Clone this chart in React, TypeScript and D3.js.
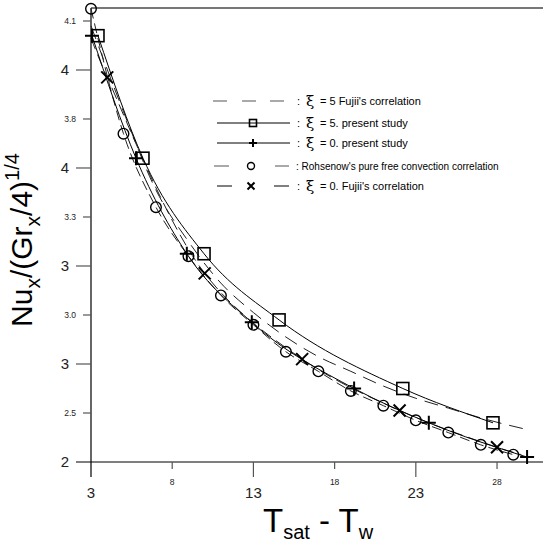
import React from "react";
import * as d3 from "d3";

// T_sat - T_w values and Nu_x/(Gr_x/4)^(1/4)
const fujii5T = [3, 5, 7, 9, 11, 13, 15, 17, 19, 21, 23, 25, 27, 30];
const fujii5Nu = [4.08, 3.73, 3.41, 3.2, 3.03, 2.91, 2.81, 2.73, 2.67, 2.61, 2.56, 2.52, 2.48, 2.43];

const present5T = [3.43, 6.2, 9.96, 14.58, 22.2, 27.75];
const present5Nu = [4.04, 3.54, 3.15, 2.88, 2.6, 2.46];

const present0T = [3.06, 5.77, 8.9, 12.9, 19.2, 23.8, 29.85];
const present0Nu = [4.04, 3.54, 3.15, 2.87, 2.6, 2.46, 2.32];

const rohsenowT = [3, 5, 7, 9, 11, 13, 15, 17, 19, 21, 23, 25, 27, 29];
const rohsenowNu = [4.15, 3.64, 3.34, 3.14, 2.98, 2.86, 2.75, 2.67, 2.59, 2.53, 2.47, 2.42, 2.37, 2.33];

const fujii0T = [3, 4, 10, 16, 22, 28, 29.5];
const fujii0Nu = [4.03, 3.87, 3.07, 2.72, 2.51, 2.36, 2.33];
const fujii0Markers = [4, 10, 16, 22, 28];

const xTicks = [3, 8, 13, 18, 23, 28];
const xTickLabels = ["3", "8", "13", "18", "23", "28"];
const yTicks = [2.3, 2.5, 2.7, 2.9, 3.1, 3.3, 3.5, 3.7, 3.9, 4.1];
const yTickLabels = ["2", "2.5", "3", "3.0", "3", "3.3", "4", "3.8", "4", "4.1"];

const legendLabels = [
  "= 5 Fujii's correlation",
  "= 5. present study",
  "= 0. present study",
  ": Rohsenow's pure free convection correlation",
  "= 0. Fujii's correlation",
];

const FONT = "'Liberation Sans', Arial, sans-serif";

function zip(t: number[], v: number[]) {
  return t.map((d, i) => [d, v[i]] as [number, number]);
}

function Square({ cx, cy, s }: { cx: number; cy: number; s: number }) {
  return <rect x={cx - s / 2} y={cy - s / 2} width={s} height={s} fill="none" stroke="#000" strokeWidth={1.6} />;
}
function Plus({ cx, cy, s }: { cx: number; cy: number; s: number }) {
  return (
    <path d={`M${cx - s / 2},${cy}H${cx + s / 2}M${cx},${cy - s / 2}V${cy + s / 2}`} stroke="#000" strokeWidth={2} />
  );
}
function Circle({ cx, cy, r }: { cx: number; cy: number; r: number }) {
  return <circle cx={cx} cy={cy} r={r} fill="none" stroke="#000" strokeWidth={1.4} />;
}
function Cross({ cx, cy, s }: { cx: number; cy: number; s: number }) {
  const h = s / 2;
  return (
    <path d={`M${cx - h},${cy - h}L${cx + h},${cy + h}M${cx - h},${cy + h}L${cx + h},${cy - h}`} stroke="#000" strokeWidth={2} />
  );
}

export default function App() {
  const W = 543;
  const H = 544;
  const left = 91;
  const top = 8;
  const bottom = 462;

  const x = d3.scaleLinear().domain([3, 30.83]).range([left, W]);
  const y = d3.scaleLinear().domain([2.3, 4.153]).range([bottom, top]);

  const smooth = d3
    .line<[number, number]>()
    .x((d) => x(d[0]))
    .y((d) => y(d[1]))
    .curve(d3.curveMonotoneX);
  const cr = d3
    .line<[number, number]>()
    .x((d) => x(d[0]))
    .y((d) => y(d[1]))
    .curve(d3.curveCatmullRom.alpha(0.5));

  const p5 = zip(present5T, present5Nu);
  const p0 = zip(present0T, present0Nu);
  const ro = zip(rohsenowT, rohsenowNu);
  const f5 = zip(fujii5T, fujii5Nu);
  const f0 = zip(fujii0T, fujii0Nu);

  const legendY = [101, 123, 143, 166, 186];

  return (
    <div style={{ position: "fixed", left: 0, top: 0 }}>
      <svg width={W} height={H} style={{ display: "block", background: "#fff" }}>
        {/* frame */}
        <line x1={left} x2={W} y1={top} y2={top} stroke="#777" strokeWidth={2} />
        <line x1={76} x2={W} y1={bottom} y2={bottom} stroke="#000" strokeWidth={1.2} />
        <line x1={left} x2={left} y1={top} y2={477} stroke="#000" strokeWidth={1.2} />

        {/* y ticks */}
        {yTicks.map((v, i) => {
          const big = i % 2 === 0;
          const yy = y(v);
          return (
            <g key={"yt" + i}>
              {i > 0 && <line x1={big ? 76 : 83} x2={left} y1={yy} y2={yy} stroke="#555" strokeWidth={1.2} />}
              <text
                x={big ? 69 : 76}
                y={yy}
                dy="0.35em"
                textAnchor="end"
                fontFamily={FONT}
                fontSize={big ? 15 : 8.5}
                fill="#222"
              >
                {yTickLabels[i]}
              </text>
            </g>
          );
        })}

        {/* x ticks */}
        {xTicks.map((v, i) => {
          const big = i % 2 === 0;
          const xx = x(v);
          return (
            <g key={"xt" + i}>
              {i > 0 && <line x1={xx} x2={xx} y1={bottom} y2={big ? 477 : 469} stroke="#555" strokeWidth={1.2} />}
              <text
                x={xx}
                y={big ? 498 : 485}
                textAnchor="middle"
                fontFamily={FONT}
                fontSize={big ? 15 : 8.5}
                fill="#222"
              >
                {xTickLabels[i]}
              </text>
            </g>
          );
        })}

        {/* curves */}
        <path d={smooth(f5) || ""} fill="none" stroke="#222" strokeWidth={1} strokeDasharray="14,8" />
        <path d={smooth(ro) || ""} fill="none" stroke="#222" strokeWidth={1} strokeDasharray="10,5" />
        <path d={cr(f0) || ""} fill="none" stroke="#222" strokeWidth={1} strokeDasharray="12,6" />
        <path d={smooth(p5) || ""} fill="none" stroke="#000" strokeWidth={1} />
        <path d={smooth(p0) || ""} fill="none" stroke="#000" strokeWidth={1} />

        {/* markers */}
        {ro.map((d, i) => (
          <Circle key={"c" + i} cx={x(d[0])} cy={y(d[1])} r={5.3} />
        ))}
        {p5.map((d, i) => (
          <Square key={"s" + i} cx={x(d[0])} cy={y(d[1])} s={12} />
        ))}
        {p0.map((d, i) => (
          <Plus key={"p" + i} cx={x(d[0])} cy={y(d[1])} s={14} />
        ))}
        {f0
          .filter((d) => fujii0Markers.includes(d[0]))
          .map((d, i) => (
            <Cross key={"x" + i} cx={x(d[0])} cy={y(d[1])} s={12} />
          ))}

        {/* legend */}
        <g fontFamily={FONT} fontSize={11} fill="#000">
          {/* row 1 */}
          <path d={`M213,${legendY[0]}h14M242,${legendY[0]}h14M270,${legendY[0]}h14`} stroke="#555" strokeWidth={1.2} />
          {/* row 2 */}
          <line x1={217} x2={290} y1={legendY[1]} y2={legendY[1]} stroke="#000" strokeWidth={1} />
          <Square cx={253} cy={legendY[1]} s={7} />
          {/* row 3 */}
          <line x1={217} x2={290} y1={legendY[2]} y2={legendY[2]} stroke="#000" strokeWidth={1} />
          <Plus cx={253} cy={legendY[2]} s={8} />
          {/* row 4 */}
          <path d={`M214,${legendY[3]}h15M275,${legendY[3]}h14`} stroke="#555" strokeWidth={1.2} />
          <Circle cx={251} cy={legendY[3]} r={3.5} />
          {/* row 5 */}
          <path d={`M217,${legendY[4]}h15M274,${legendY[4]}h15`} stroke="#000" strokeWidth={1} />
          <Cross cx={251} cy={legendY[4]} s={7} />

          {legendLabels.map((t, i) =>
            i === 3 ? (
              <text key={"l" + i} x={296} y={legendY[i]} dy="0.35em" fontSize={10}>
                {t}
              </text>
            ) : (
              <g key={"l" + i}>
                <text x={297} y={legendY[i]} dy="0.35em">
                  :
                </text>
                <text x={306} y={legendY[i]} dy="0.3em" fontFamily="'DejaVu Serif', serif" fontSize={15}>
                  ξ
                </text>
                <text x={320} y={legendY[i]} dy="0.35em">
                  {t}
                </text>
              </g>
            )
          )}
        </g>

        {/* axis titles */}
        <text transform="translate(32,240) rotate(-90)" textAnchor="middle" fontFamily={FONT} fontSize={30} fill="#000">
          Nu
          <tspan fontSize={21} dy={8}>
            x
          </tspan>
          <tspan dy={-8}>/(Gr</tspan>
          <tspan fontSize={21} dy={8}>
            x
          </tspan>
          <tspan dy={-8}>/4)</tspan>
          <tspan fontSize={20} dy={-13}>
            1/4
          </tspan>
        </text>
        <text x={263} y={532} fontFamily={FONT} fontSize={33} fill="#000">
          T
          <tspan fontSize={20} dy={7}>
            sat
          </tspan>
          <tspan dy={-7}> - T</tspan>
          <tspan fontSize={20} dy={7}>
            w
          </tspan>
        </text>
      </svg>
    </div>
  );
}
